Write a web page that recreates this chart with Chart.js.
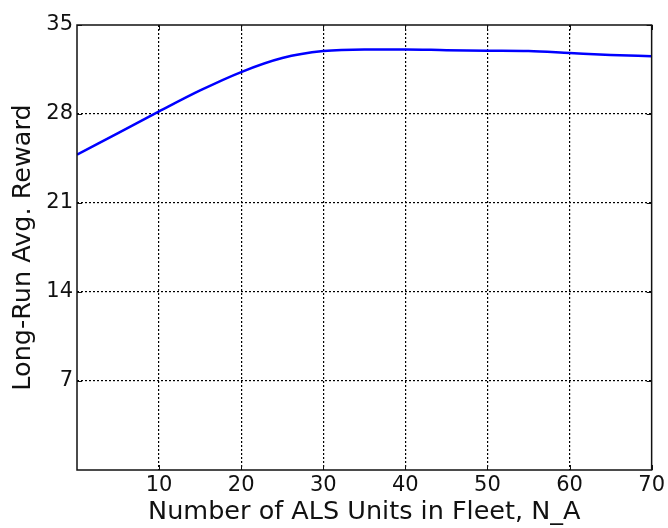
<!DOCTYPE html>
<html>
<head>
<meta charset="utf-8">
<script src="https://cdn.jsdelivr.net/npm/chart.js@4/dist/chart.umd.min.js"></script>
<style>
html,body{margin:0;padding:0;background:#fff;}
canvas{display:block;}
</style>
</head>
<body>
<canvas id="c" width="668" height="528"></canvas>
<script>
const fleetSizes = [0, 5, 10, 15, 20, 25, 30, 35, 40, 45, 50, 55, 60, 65, 70];
const avgReward = [24.8, 26.5, 28.2, 29.85, 31.3, 32.4, 32.95, 33.08, 33.08, 33.02, 32.98, 32.95, 32.8, 32.65, 32.55];
const xTicks = [10, 20, 30, 40, 50, 60, 70];
const yTicks = [7, 14, 21, 28, 35];
const xTitle = 'Number of ALS Units in Fleet, N_A';
const yTitle = 'Long-Run Avg. Reward';

const FONT = "'DejaVu Sans', sans-serif";

const frame = {
  id: 'frame',
  afterDraw(chart) {
    const a = chart.chartArea, ctx = chart.ctx;
    const xs = chart.scales.x, ys = chart.scales.y;
    ctx.save();
    ctx.strokeStyle = '#111';
    ctx.lineWidth = 1;
    ctx.beginPath();
    xTicks.forEach(v => {
      const px = Math.round(xs.getPixelForValue(v)) + 0.5;
      ctx.moveTo(px, a.bottom); ctx.lineTo(px, a.bottom - 5);
      ctx.moveTo(px, a.top); ctx.lineTo(px, a.top + 5);
    });
    yTicks.forEach(v => {
      const py = Math.round(ys.getPixelForValue(v)) + 0.5;
      ctx.moveTo(a.left, py); ctx.lineTo(a.left + 5, py);
      ctx.moveTo(a.right, py); ctx.lineTo(a.right - 5, py);
    });
    ctx.stroke();
    ctx.lineWidth = 1.5;
    ctx.strokeRect(a.left, a.top, a.right - a.left, a.bottom - a.top);
    ctx.restore();
  }
};

new Chart(document.getElementById('c'), {
  type: 'line',
  data: {
    datasets: [{
      data: fleetSizes.map((x, i) => ({x, y: avgReward[i]})),
      borderColor: '#0000ff',
      borderWidth: 2.5,
      pointRadius: 0,
      cubicInterpolationMode: 'monotone',
      fill: false
    }]
  },
  options: {
    responsive: false,
    animation: false,
    layout: {padding: {left: 0, top: 25, right: 16, bottom: 0}},
    plugins: {legend: {display: false}, tooltip: {enabled: false}},
    scales: {
      x: {
        type: 'linear', min: 0, max: 70,
        afterBuildTicks(s) { s.ticks = [0].concat(xTicks).map(v => ({value: v})); },
        afterFit(s) { s.height = 58; },
        ticks: {
          color: '#111', font: {family: FONT, size: 21}, padding: 3, maxRotation: 0,
          callback: v => (xTicks.includes(v) ? String(v) : '')
        },
        grid: {
          color: c => (c.tick && xTicks.includes(c.tick.value) && c.tick.value !== 70) ? '#000' : 'rgba(0,0,0,0)',
          lineWidth: 1.2, drawTicks: false
        },
        border: {display: false, dash: [2, 2]},
        title: {display: true, text: xTitle, color: '#111', font: {family: FONT, size: 25.5}, padding: {top: 0, bottom: 0}}
      },
      y: {
        type: 'linear', min: 0, max: 35,
        afterBuildTicks(s) { s.ticks = [0].concat(yTicks).map(v => ({value: v})); },
        afterFit(s) { s.width = 77; },
        ticks: {
          color: '#111', font: {family: FONT, size: 21}, padding: 4,
          callback: v => (yTicks.includes(v) ? String(v) : '')
        },
        grid: {
          color: c => (c.tick && yTicks.includes(c.tick.value) && c.tick.value !== 35) ? '#000' : 'rgba(0,0,0,0)',
          lineWidth: 1.2, drawTicks: false
        },
        border: {display: false, dash: [2, 2]},
        title: {display: true, text: yTitle, color: '#111', font: {family: FONT, size: 25.5}, padding: {top: 8, bottom: 0}}
      }
    }
  },
  plugins: [frame]
});
</script>
</body>
</html>
